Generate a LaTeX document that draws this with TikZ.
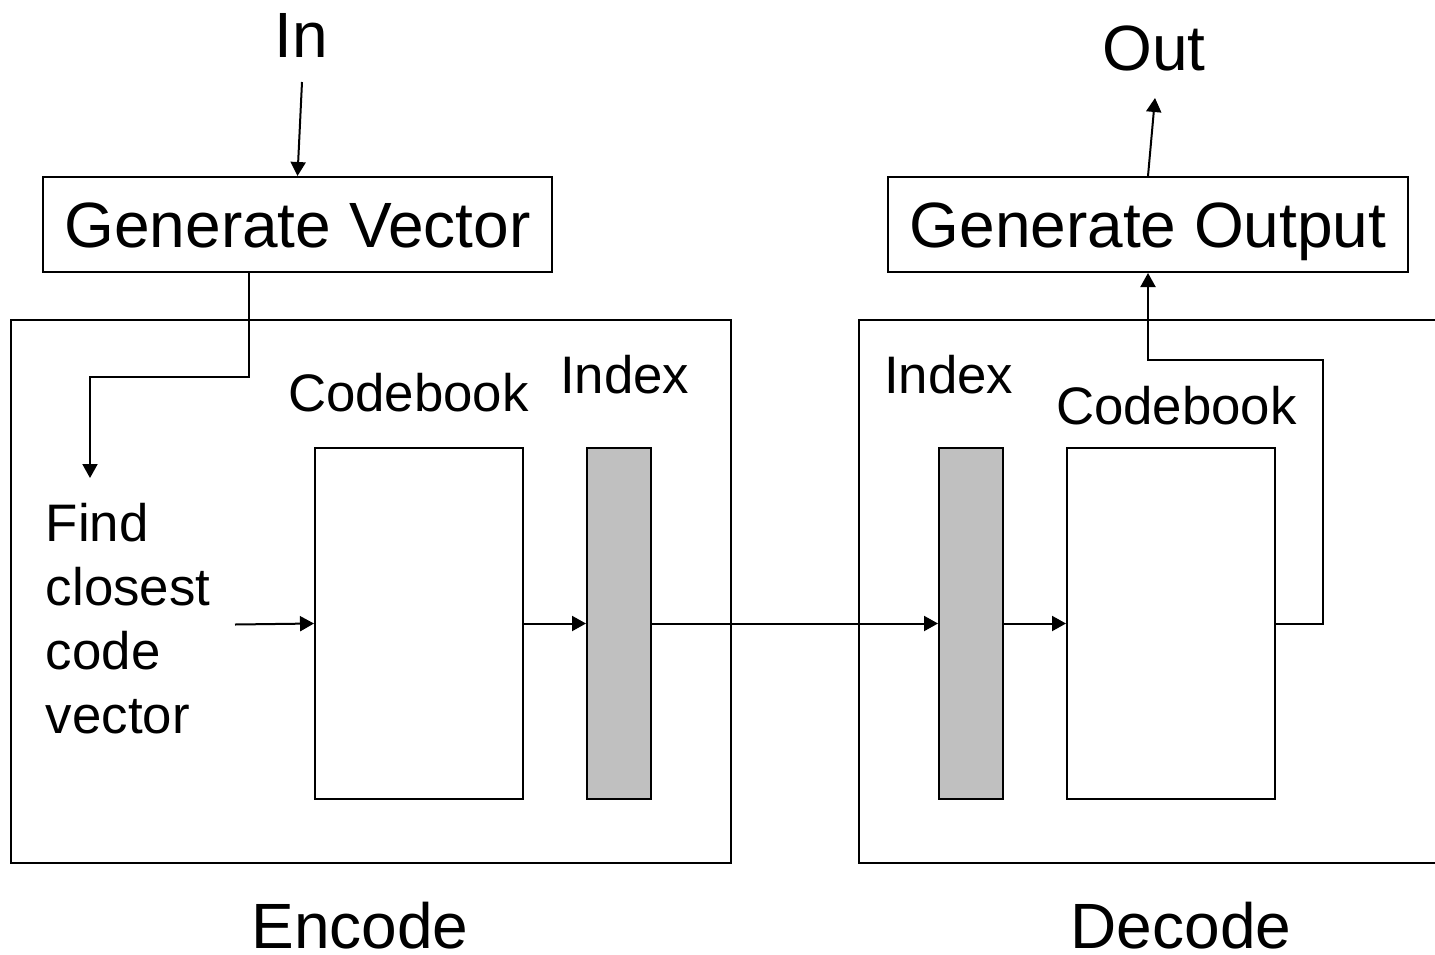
\documentclass[tikz,border=0pt]{standalone}
\usepackage{fontspec}
\setmainfont{Liberation Sans}
\usetikzlibrary{arrows.meta}
\definecolor{idxgray}{HTML}{C0C0C0}
\newcommand{\bigf}{\fontsize{32}{36}\selectfont}
\newcommand{\midf}{\fontsize{26.4}{32}\selectfont}
\begin{document}
\begin{tikzpicture}[x=0.5pt,y=-0.5pt, line width=1pt,
  arr/.style={-{Triangle[length=7pt,width=7.5pt]}},
  blk/.style={draw, inner sep=0pt},
  topbox/.style={blk, minimum height=47.5pt, font=\bigf, text height=23pt, text depth=0pt},
  lbl/.style={inner sep=0pt}]
\useasboundingbox (0,0) rectangle (1435,954);
\clip (0,0) rectangle (1435,954);
% outer boxes
\node[blk, minimum width=360pt, minimum height=271.5pt] (enc) at (371,591.5) {};
\node[blk, minimum width=293pt, minimum height=271.5pt] (dec) at (1152,591.5) {};
% top boxes
\node[topbox, minimum width=254.5pt] (gv) at (297.5,224.5) {Generate Vector};
\node[topbox, minimum width=260pt] (go) at (1148,224.5) {Generate Output};
% inner blocks
\node[blk, fill=white, minimum width=104pt, minimum height=175.5pt] (cbe) at (419,623.5) {};
\node[blk, fill=idxgray, minimum width=32pt, minimum height=175.5pt] (ixe) at (619,623.5) {};
\node[blk, fill=idxgray, minimum width=32pt, minimum height=175.5pt] (ixd) at (971,623.5) {};
\node[blk, fill=white, minimum width=104pt, minimum height=175.5pt] (cbd) at (1171,623.5) {};
% labels
\node[lbl, anchor=base, font=\bigf] (inl) at (301,57) {In};
\node[lbl, anchor=base, font=\bigf] (outl) at (1154,70) {Out};
\node[lbl, anchor=base west, font=\midf] (cbel) at (287,411) {Codebook};
\node[lbl, anchor=base west, font=\midf] (ixel) at (559,393) {Index};
\node[lbl, anchor=base west, font=\midf] (ixdl) at (883,393) {Index};
\node[lbl, anchor=base west, font=\midf] (cbdl) at (1055,424) {Codebook};
\node[lbl, anchor=base, font=\bigf] (encl) at (360,948) {Encode};
\node[lbl, anchor=base, font=\bigf] (decl) at (1181,948) {Decode};
\node[lbl, anchor=north west, align=left, font=\midf] (find) at (45,502) {Find\\closest\\code\\vector};
% connectors
\coordinate (inTail) at (302,82);
\draw[arr] (inTail) -- (gv.north);
\coordinate (outTip) at (1155,98);
\draw[arr] (go.north) -- (outTip);
\coordinate (findTip) at (90,478);
\draw[arr] ([xshift=-24.25pt]gv.south) -- ++(0,104) -| (findTip);
\coordinate (findOut) at (235,624.5);
\draw[arr] (findOut) -- (cbe.west);
\draw[arr] (cbe.east) -- (ixe.west);
\draw[arr] (ixe.east) -- (ixd.west);
\draw[arr] (ixd.east) -- (cbd.west);
\draw[arr] (cbd.east) -- ++(47,0) -- ++(0,-263.5) -| (go.south);
\end{tikzpicture}
\end{document}
